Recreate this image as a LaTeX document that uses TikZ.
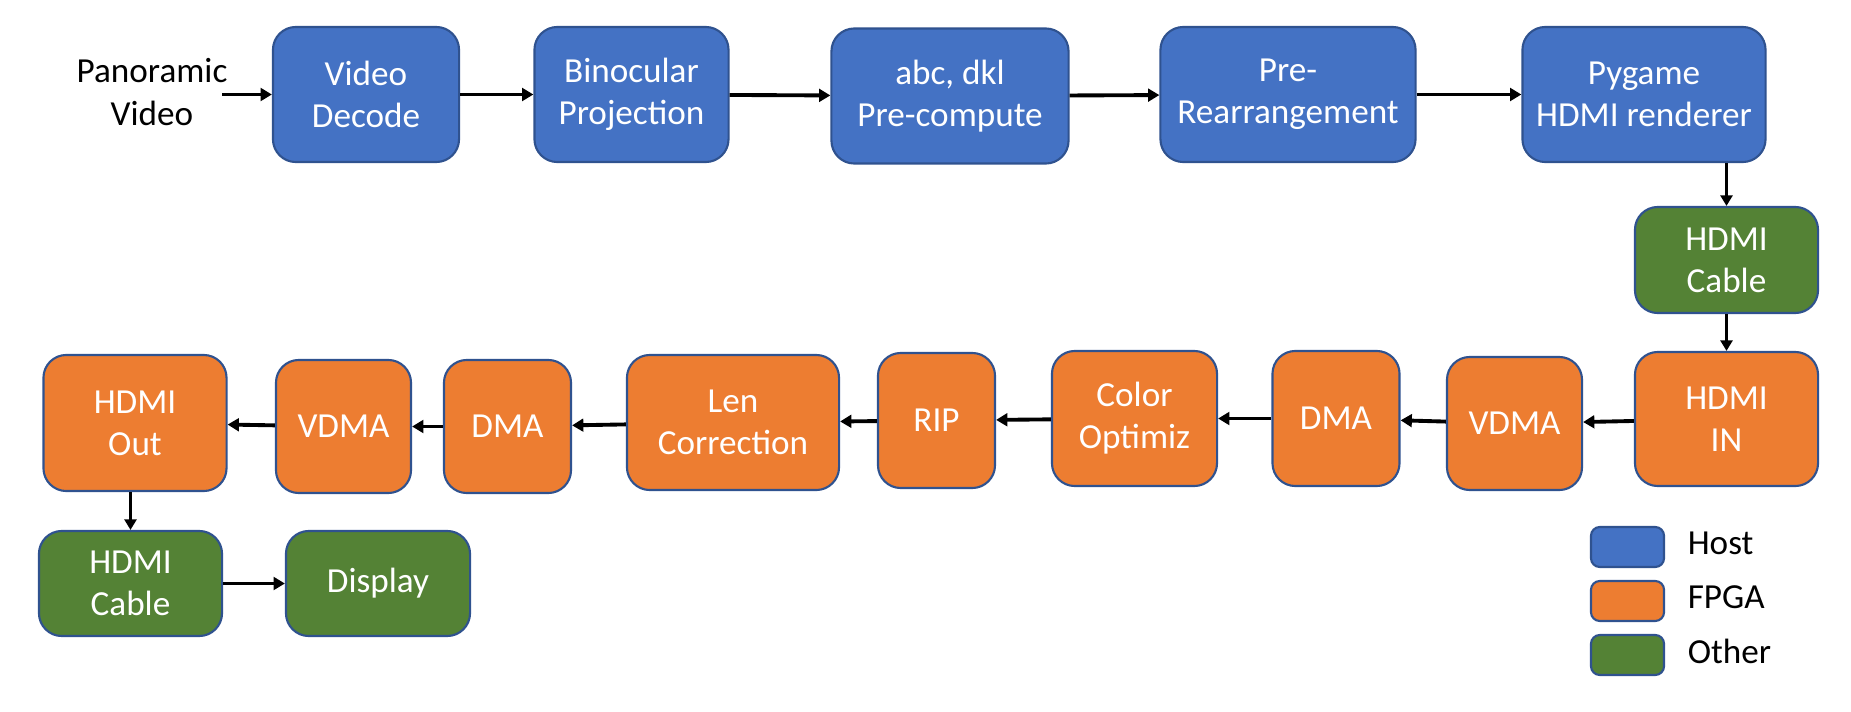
\documentclass[tikz,border=0pt]{standalone}
\usepackage{fontspec}
\setmainfont{Carlito}
\usepackage{xcolor}
\usetikzlibrary{arrows.meta, positioning}

\definecolor{hostblue}{HTML}{4472C4}
\definecolor{fpgaorange}{HTML}{ED7D31}
\definecolor{othergreen}{HTML}{548235}
\definecolor{boxline}{HTML}{2F528F}

\begin{document}
\begin{tikzpicture}[x=0.01cm, y=-0.01cm,
    box/.style={draw=boxline, line width=0.6pt, rounded corners=6.5pt, minimum height=1.35cm, align=center, text=white, font=\fontsize{10}{12}\selectfont, inner sep=1pt},
    host/.style={box, fill=hostblue},
    fpga/.style={box, fill=fpgaorange},
    other/.style={box, fill=othergreen},
    key/.style={draw=boxline, line width=0.6pt, rounded corners=2.5pt, minimum width=0.73cm, minimum height=0.4cm, inner sep=0pt},
    keytext/.style={inner sep=0pt, font=\fontsize{10}{12}\selectfont, yshift=1pt},
    arr/.style={-{Triangle[length=3.2pt,width=3.6pt]}, line width=1.1pt},
    varr/.style={-{Triangle[length=3pt,width=3.4pt]}, line width=0.9pt},
]
\useasboundingbox (0,0) rectangle (1851,712);

% Host side
\node[align=center, font=\fontsize{10}{12}\selectfont] (pano) at (152,92) {Panoramic\\Video};
\coordinate (panoout) at (222,94.5);
\node[host, minimum width=1.86cm] (decode) at (366,94.5) {Video\\Decode};
\node[host, minimum width=1.94cm] (binoc) at (631.5,94.5) {Binocular\\Projection};
\node[host, minimum width=2.37cm] (precomp) at (950,96) {abc, dkl\\Pre-compute};
\node[host, minimum width=2.55cm] (rearr) at (1288,94.5) {Pre-\\Rearrangement};
\node[host, minimum width=2.43cm] (pygame) at (1644,94.5) {Pygame\\HDMI renderer};

% Cable to board
\node[other, minimum width=1.83cm, minimum height=1.06cm] (cablein) at (1726.5,260) {HDMI\\Cable};

% FPGA side
\node[fpga, minimum width=1.83cm, minimum height=1.34cm] (hdmiin) at (1726.5,419) {HDMI\\IN};
\node[fpga, minimum width=1.35cm, minimum height=1.33cm] (vdmain) at (1514.5,423.5) {VDMA};
\node[fpga, minimum width=1.27cm] (dmain) at (1336,418.5) {DMA};
\node[fpga, minimum width=1.65cm] (color) at (1134.5,418.5) {Color\\Optimiz};
\node[fpga, minimum width=1.17cm] (rip) at (936.5,420.5) {RIP};
\node[fpga, minimum width=2.12cm] (lens) at (733,422.5) {Len\\Correction};
\node[fpga, minimum width=1.27cm, minimum height=1.33cm] (dmaout) at (507.5,426.5) {DMA};
\node[fpga, minimum width=1.35cm, minimum height=1.33cm] (vdmaout) at (343.5,426.5) {VDMA};
\node[fpga, minimum width=1.83cm, minimum height=1.36cm] (hdmiout) at (135,423) {HDMI\\Out};

% Output
\node[other, minimum width=1.83cm, minimum height=1.05cm] (cableout) at (130.5,583.5) {HDMI\\Cable};
\node[other, minimum width=1.84cm, minimum height=1.05cm] (display) at (378,583.5) {Display};

% Legend
\node[key, fill=hostblue] (khost) at (1627.5,547) {};
\node[key, fill=fpgaorange] (kfpga) at (1627.5,601) {};
\node[key, fill=othergreen] (kother) at (1627.5,655) {};
\node[keytext, right=0.22cm of khost] (lhost) {Host};
\node[keytext, right=0.22cm of kfpga] (lfpga) {FPGA};
\node[keytext, right=0.22cm of kother] (lother) {Other};

% Arrows
\draw[arr] (panoout) -- (decode.west);
\draw[arr] (decode) -- (binoc);
\draw[arr] (binoc) -- (precomp);
\draw[arr] (precomp) -- (rearr);
\draw[arr] (rearr) -- (pygame);
\draw[varr] (pygame.south -| cablein) -- (cablein.north);
\draw[varr] (cablein) -- (hdmiin);
\draw[arr] (hdmiin) -- (vdmain);
\draw[arr] (vdmain) -- (dmain);
\draw[arr] (dmain) -- (color);
\draw[arr] (color) -- (rip);
\draw[arr] (rip) -- (lens);
\draw[arr] (lens) -- (dmaout);
\draw[arr] (dmaout) -- (vdmaout);
\draw[arr] (vdmaout) -- (hdmiout);
\draw[varr] (hdmiout.south -| cableout) -- (cableout.north);
\draw[arr] (cableout) -- (display);

\end{tikzpicture}
\end{document}
